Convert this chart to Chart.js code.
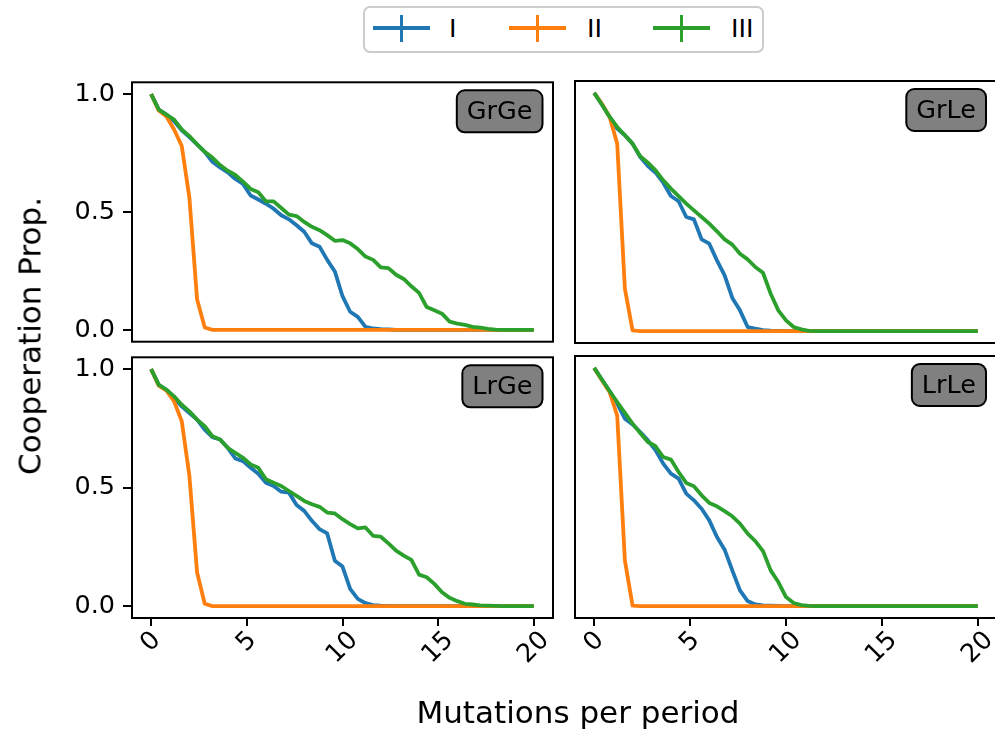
<!DOCTYPE html>
<html>
<head>
<meta charset="utf-8">
<script src="https://cdn.jsdelivr.net/npm/chart.js@4.4.1/dist/chart.umd.min.js"></script>
<style>
  html, body { margin: 0; padding: 0; background: #fff; overflow: hidden; width: 995px; height: 731px; }
  #fig { position: relative; width: 995px; height: 731px; font-family: "DejaVu Sans", sans-serif; color: #000; overflow: hidden; }
  #fig canvas { position: absolute; }
  .axis-title { position: absolute; white-space: nowrap; font-size: 31px; line-height: 1; transform: translate(-50%, -50%); }
  #legend { position: absolute; left: 363px; top: 6px; width: 401px; height: 47px; border: 2px solid #cccccc; border-radius: 7px; box-sizing: border-box; background: #fff; }
  .hline, .vline { position: absolute; }
  .ltext { position: absolute; font-size: 25.5px; line-height: 30px; white-space: nowrap; }
</style>
</head>
<body>
<div id="fig">
  <div id="legend"></div>
  <canvas id="pGrGe"></canvas>
  <canvas id="pGrLe"></canvas>
  <canvas id="pLrGe"></canvas>
  <canvas id="pLrLe"></canvas>
  <div class="axis-title" style="left:30px; top:336px; transform: translate(-50%, -50%) rotate(-90deg);">Cooperation Prop.</div>
  <div class="axis-title" style="left:578px; top:712px;">Mutations per period</div>
</div>
<script>
// Mutations per period (x positions shared by every panel)
const mutations = [0,0.4,0.8,1.2,1.6,2,2.4,2.8,3.2,3.6,4,4.4,4.8,5.2,5.6,6,6.4,6.8,7.2,7.6,8,8.4,8.8,9.2,9.6,10,10.4,10.8,11.2,11.6,12,12.4,12.8,13.2,13.6,14,14.4,14.8,15.2,15.6,16,16.4,16.8,17.2,17.6,18,18.4,18.8,19.2,19.6,20];

const xTicks = [0, 5, 10, 15, 20];
const yTicks = [0, 0.5, 1.0];
const seriesNames = ['I', 'II', 'III'];
const seriesColors = ['#1f77b4', '#ff7f0e', '#2ca02c'];
const panelTags = ['GrGe', 'GrLe', 'LrGe', 'LrLe'];

// Cooperation proportion per series, one array per panel
const grgeI = [
  1.000,0.934,0.913,0.885,0.846,0.818,0.787,0.755,0.713,0.689,
  0.668,0.640,0.619,0.570,0.553,0.535,0.514,0.486,0.469,0.444,
  0.416,0.367,0.353,0.297,0.248,0.143,0.077,0.055,0.013,0.006,
  0.003,0.002,0,0,0,0,0,0,0,0,
  0,0,0,0,0,0,0,0,0,0,
  0];
const grgeII = [
  1.000,0.930,0.905,0.850,0.780,0.560,0.130,0.010,0,0,
  0,0,0,0,0,0,0,0,0,0,
  0,0,0,0,0,0,0,0,0,0,
  0,0,0,0,0,0,0,0,0,0,
  0,0,0,0,0,0,0,0,0,0,
  0];
const grgeIII = [
  1.000,0.934,0.913,0.892,0.850,0.822,0.787,0.755,0.731,0.699,
  0.675,0.657,0.629,0.598,0.584,0.545,0.545,0.517,0.489,0.483,
  0.458,0.437,0.423,0.402,0.378,0.381,0.367,0.343,0.311,0.297,
  0.265,0.262,0.234,0.216,0.185,0.157,0.097,0.083,0.069,0.035,
  0.027,0.021,0.013,0.010,0.004,0.001,0,0,0,0,
  0];

const grleI = [
  1.000,0.951,0.900,0.850,0.822,0.787,0.731,0.693,0.665,0.623,
  0.567,0.545,0.479,0.469,0.385,0.367,0.297,0.234,0.139,0.087,
  0.017,0.010,0.004,0.002,0.001,0,0,0,0,0,
  0,0,0,0,0,0,0,0,0,0,
  0,0,0,0,0,0,0,0,0,0,
  0];
const grleII = [
  1.000,0.955,0.900,0.787,0.178,0.003,0,0,0,0,
  0,0,0,0,0,0,0,0,0,0,
  0,0,0,0,0,0,0,0,0,0,
  0,0,0,0,0,0,0,0,0,0,
  0,0,0,0,0,0,0,0,0,0,
  0];
const grleIII = [
  1.000,0.951,0.900,0.857,0.822,0.787,0.734,0.707,0.675,0.633,
  0.598,0.567,0.535,0.507,0.479,0.451,0.419,0.385,0.363,0.325,
  0.301,0.269,0.245,0.157,0.087,0.045,0.017,0.007,0.001,0,
  0,0,0,0,0,0,0,0,0,0,
  0,0,0,0,0,0,0,0,0,0,
  0];

const lrgeI = [
  1.000,0.934,0.913,0.878,0.843,0.815,0.787,0.745,0.713,0.703,
  0.668,0.623,0.612,0.584,0.559,0.521,0.507,0.483,0.479,0.427,
  0.402,0.360,0.325,0.307,0.192,0.167,0.073,0.031,0.013,0.004,
  0.002,0.001,0,0,0,0,0,0,0,0,
  0,0,0,0,0,0,0,0,0,0,
  0];
const lrgeII = [
  1.000,0.930,0.909,0.864,0.780,0.549,0.143,0.010,0,0,
  0,0,0,0,0,0,0,0,0,0,
  0,0,0,0,0,0,0,0,0,0,
  0,0,0,0,0,0,0,0,0,0,
  0,0,0,0,0,0,0,0,0,0,
  0];
const lrgeIII = [
  1.000,0.934,0.913,0.885,0.850,0.822,0.787,0.759,0.717,0.703,
  0.668,0.647,0.626,0.598,0.584,0.535,0.521,0.507,0.486,0.465,
  0.444,0.430,0.419,0.395,0.391,0.367,0.346,0.328,0.332,0.297,
  0.293,0.265,0.234,0.213,0.195,0.133,0.122,0.094,0.059,0.035,
  0.021,0.010,0.007,0.003,0.002,0.001,0,0,0,0,
  0];

const lrleI = [
  1.000,0.951,0.903,0.850,0.787,0.763,0.731,0.696,0.654,0.598,
  0.556,0.535,0.472,0.444,0.409,0.360,0.290,0.237,0.150,0.066,
  0.021,0.007,0.003,0.002,0.001,0,0,0,0,0,
  0,0,0,0,0,0,0,0,0,0,
  0,0,0,0,0,0,0,0,0,0,
  0];
const lrleII = [
  1.000,0.948,0.899,0.800,0.192,0.002,0,0,0,0,
  0,0,0,0,0,0,0,0,0,0,
  0,0,0,0,0,0,0,0,0,0,
  0,0,0,0,0,0,0,0,0,0,
  0,0,0,0,0,0,0,0,0,0,
  0];
const lrleIII = [
  1.000,0.951,0.903,0.857,0.811,0.766,0.727,0.689,0.671,0.626,
  0.615,0.563,0.517,0.503,0.465,0.433,0.419,0.399,0.377,0.346,
  0.304,0.273,0.231,0.150,0.101,0.038,0.013,0.004,0.001,0,
  0,0,0,0,0,0,0,0,0,0,
  0,0,0,0,0,0,0,0,0,0,
  0];

const FONT = '"DejaVu Sans", sans-serif';
const TICK_SIZE = 25.5;

// Legend: line handle with a vertical error-bar cross, then the label
(function buildLegend() {
  const fig = document.getElementById('fig');
  const lineLeft = [373, 509, 653];
  const textLeft = [449, 587, 731];
  seriesNames.forEach((name, i) => {
    const h = document.createElement('div');
    h.className = 'hline';
    h.style.cssText = `left:${lineLeft[i]}px; top:26px; width:57px; height:4px; background:${seriesColors[i]};`;
    const v = document.createElement('div');
    v.className = 'vline';
    v.style.cssText = `left:${lineLeft[i] + 27}px; top:15px; width:3px; height:27px; background:${seriesColors[i]};`;
    const t = document.createElement('div');
    t.className = 'ltext';
    t.style.cssText = `left:${textLeft[i]}px; top:13px;`;
    t.textContent = name;
    fig.appendChild(h); fig.appendChild(v); fig.appendChild(t);
  });
})();

// Frame, tag box and rotated x tick labels
const panelDecor = {
  id: 'panelDecor',
  afterDraw(chart, args, opts) {
    const { ctx, chartArea: a } = chart;
    ctx.save();
    ctx.strokeStyle = '#000';
    ctx.lineWidth = 2;
    ctx.strokeRect(a.left, a.top, a.right - a.left, a.bottom - a.top);

    ctx.font = `${TICK_SIZE}px ${FONT}`;
    const tw = ctx.measureText(opts.tag).width;
    const bw = tw + 20, bh = 42;
    const bx = a.right - opts.tagInset - bw, by = a.top + 8;
    ctx.beginPath();
    ctx.roundRect(bx, by, bw, bh, 8);
    ctx.fillStyle = '#808080';
    ctx.fill();
    ctx.stroke();
    ctx.fillStyle = '#000';
    ctx.textAlign = 'center';
    ctx.textBaseline = 'middle';
    ctx.fillText(opts.tag, bx + bw / 2, by + bh / 2 + 1);

    if (opts.xLabels) {
      const xs = chart.scales.x;
      xTicks.forEach(v => {
        const txt = String(v);
        const w = ctx.measureText(txt).width;
        const h = TICK_SIZE * 1.05;
        const px = xs.getPixelForValue(v);
        const cy = a.bottom + 8 + 1 + (w + h) * Math.SQRT1_2 / 2;
        ctx.save();
        ctx.translate(px, cy);
        ctx.rotate(-Math.PI / 4);
        ctx.fillText(txt, 0, 0);
        ctx.restore();
      });
    }
    ctx.restore();
  }
};

function makePanel(canvasId, tag, seriesValues, area, showX, showY) {
  const padL = showY ? 112 : 10;
  const padR = 10, padT = 22;
  const padB = showX ? 80 : 22;
  const cv = document.getElementById(canvasId);
  const W = (area.r - area.l) + padL + padR;
  const H = (area.b - area.t) + padT + padB;
  cv.width = W; cv.height = H;
  cv.style.left = (area.l - padL) + 'px';
  cv.style.top = (area.t - padT) + 'px';

  const datasets = seriesValues.map((vals, i) => ({
    label: seriesNames[i],
    data: mutations.map((m, j) => ({ x: m, y: vals[j] })),
    borderColor: seriesColors[i],
    backgroundColor: seriesColors[i],
    borderWidth: 3.8,
    pointRadius: 0,
    tension: 0,
    borderJoinStyle: 'round',
    borderCapStyle: 'butt',
    fill: false,
    order: seriesValues.length - i
  }));

  return new Chart(cv, {
    type: 'line',
    data: { datasets },
    plugins: [panelDecor],
    options: {
      responsive: false,
      animation: false,
      events: [],
      layout: { padding: { left: showY ? 0 : padL, right: padR, top: padT, bottom: showX ? 0 : padB } },
      plugins: {
        legend: { display: false },
        tooltip: { enabled: false },
        panelDecor: { tag, xLabels: showX, tagInset: area.inset }
      },
      scales: {
        x: {
          type: 'linear', min: -1, max: 21,
          display: showX,
          afterBuildTicks: s => { s.ticks = xTicks.map(v => ({ value: v })); },
          afterFit: s => { s.height = showX ? padB : 0; },
          grid: { drawOnChartArea: false, drawTicks: true, tickLength: 8, color: '#000', lineWidth: 2 },
          border: { display: false },
          ticks: { display: false }
        },
        y: {
          type: 'linear', min: -0.05, max: 1.05,
          display: showY,
          afterBuildTicks: s => { s.ticks = yTicks.map(v => ({ value: v })); },
          afterFit: s => { s.width = showY ? padL : 0; },
          grid: { drawOnChartArea: false, drawTicks: true, tickLength: 9, color: '#000', lineWidth: 2 },
          border: { display: false },
          ticks: {
            font: { family: FONT, size: TICK_SIZE },
            color: '#000',
            padding: 8,
            callback: v => Number(v).toFixed(1)
          }
        }
      }
    }
  });
}

makePanel('pGrGe', panelTags[0], [grgeI, grgeII, grgeIII], { l: 132, r: 553, t: 81, b: 343, inset: 10.5 }, false, true);
makePanel('pGrLe', panelTags[1], [grleI, grleII, grleIII], { l: 575, r: 997, t: 81, b: 343, inset: 11 }, false, false);
makePanel('pLrGe', panelTags[2], [lrgeI, lrgeII, lrgeIII], { l: 132, r: 553, t: 356, b: 618, inset: 10.5 }, true, true);
makePanel('pLrLe', panelTags[3], [lrleI, lrleII, lrleIII], { l: 575, r: 997, t: 356, b: 618, inset: 11 }, true, false);
</script>
</body>
</html>
